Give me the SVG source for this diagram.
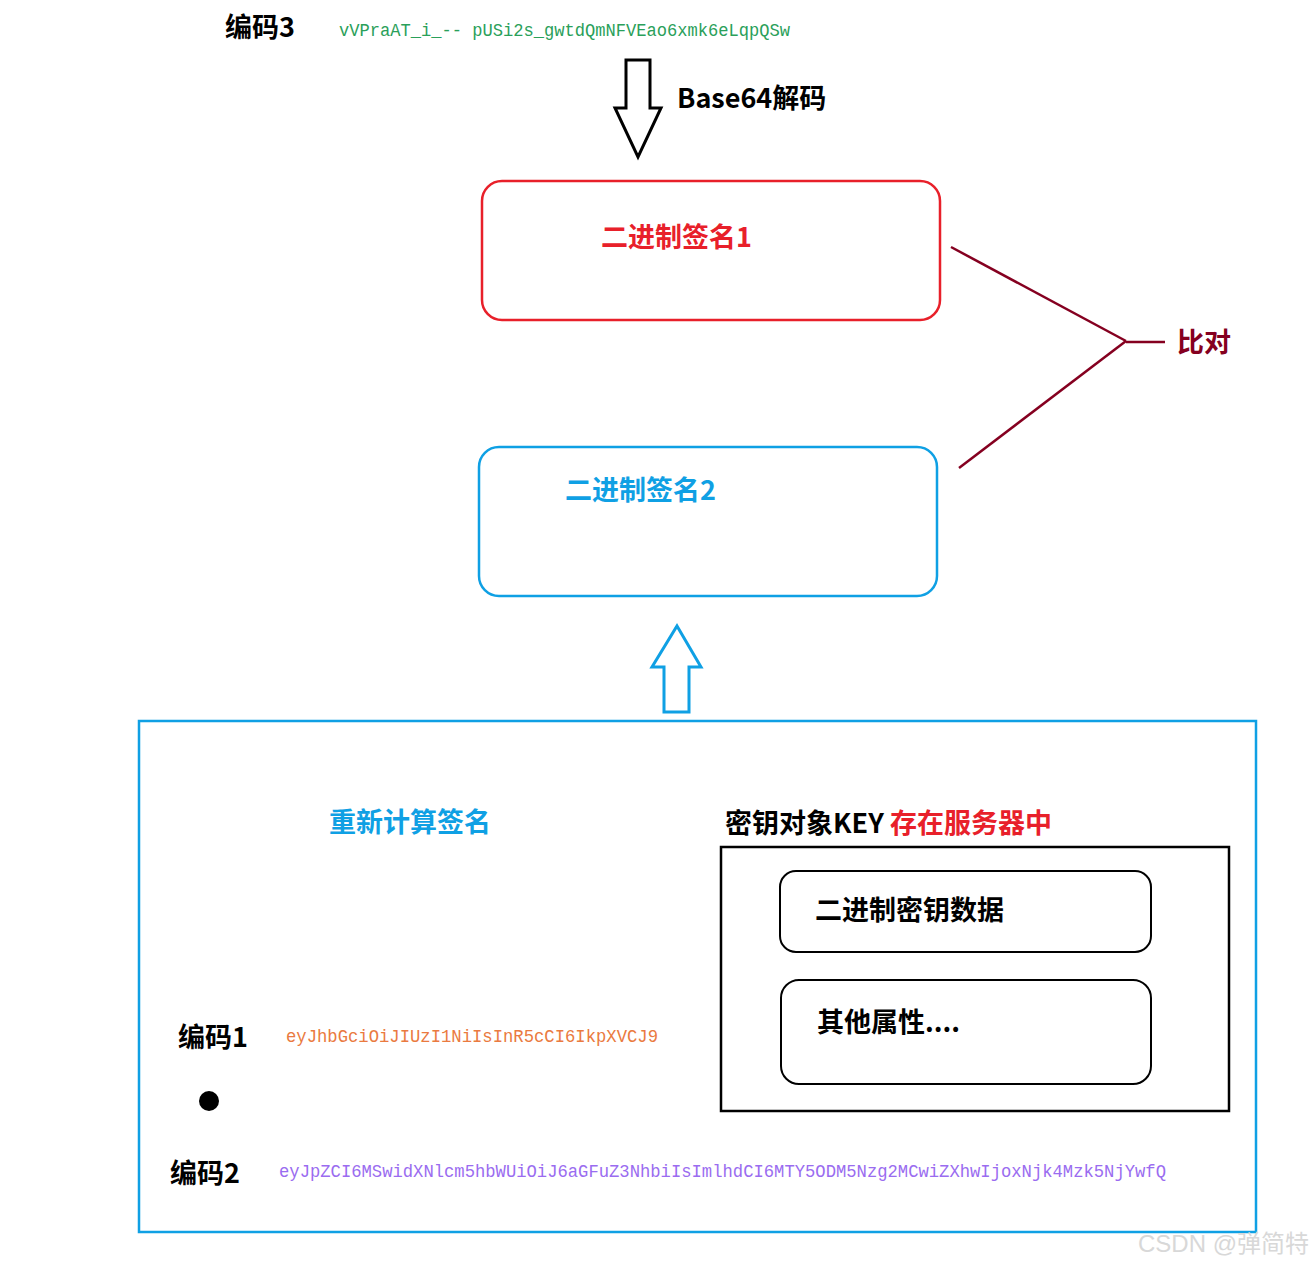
<svg xmlns="http://www.w3.org/2000/svg" width="1313" height="1265" viewBox="0 0 1313 1265">
<defs>
<style>
.t{font-family:"Noto Sans CJK SC","Liberation Sans",sans-serif;font-weight:bold;font-size:27px}
.code{font-family:"Liberation Mono","Noto Sans CJK SC",monospace;font-size:18px}
.blk{fill:#000}
.red{fill:#e8202a}
.blue{fill:#0fa0e4}
.dred{fill:#850020}
</style>
</defs>
<rect width="1313" height="1265" fill="#fff"/>
<g id="code3">
<text class="t blk" x="225" y="37">编码3</text>
<text class="code" x="339" y="36" fill="#2aa05a" textLength="451" lengthAdjust="spacingAndGlyphs">vVPraAT_i_-- pUSi2s_gwtdQmNFVEao6xmk6eLqpQSw</text>
</g>
<g id="decode-label">
<text class="t blk" x="677" y="108">Base64解码</text>
</g>
<g id="sig1">
<rect x="482" y="181" width="458" height="139" rx="20" fill="none" stroke="#e8202a" stroke-width="2.5"/>
<text class="t red" x="601" y="247">二进制签名1</text>
</g>
<g id="sig2">
<rect x="479" y="447" width="458" height="149" rx="20" fill="none" stroke="#0fa0e4" stroke-width="2.5"/>
<text class="t blue" x="565" y="500">二进制签名2</text>
</g>
<g id="compare">
<text class="t dred" x="1177" y="352">比对</text>
</g>
<g id="recompute">
<rect x="139" y="721" width="1117" height="511" fill="none" stroke="#0fa0e4" stroke-width="2.5"/>
<text class="t blue" x="329" y="832">重新计算签名</text>
<text class="t blk" x="178" y="1047">编码1</text>
<text class="code" x="286" y="1042" fill="#ea7a40" textLength="372" lengthAdjust="spacingAndGlyphs">eyJhbGciOiJIUzI1NiIsInR5cCI6IkpXVCJ9</text>
<circle cx="209" cy="1101" r="10" fill="#000"/>
<text class="t blk" x="170" y="1183">编码2</text>
<text class="code" x="279" y="1177" fill="#9a6cf0" textLength="887" lengthAdjust="spacingAndGlyphs">eyJpZCI6MSwidXNlcm5hbWUiOiJ6aGFuZ3NhbiIsImlhdCI6MTY5ODM5Nzg2MCwiZXhwIjoxNjk4Mzk5NjYwfQ</text>
</g>
<g id="key">
<text class="t blk" x="725" y="833">密钥对象KEY <tspan class="red">存在服务器中</tspan></text>
<rect x="721" y="847" width="508" height="264" fill="none" stroke="#000" stroke-width="2.5"/>
</g>
<g id="keydata">
<rect x="780" y="871" width="371" height="81" rx="16" fill="none" stroke="#000" stroke-width="2"/>
<text class="t blk" x="815" y="920">二进制密钥数据</text>
</g>
<g id="attrs">
<rect x="781" y="980" width="370" height="104" rx="18" fill="none" stroke="#000" stroke-width="2"/>
<text class="t blk" x="817" y="1032">其他属性....</text>
</g>
<g id="connectors">
<path d="M626,60 H650 V108 H661 L638,157 L615,108 H626 Z" fill="#fff" stroke="#000" stroke-width="3" stroke-linejoin="miter"/>
<path d="M677,626 L701,667 H689 V712 H664 V667 H652 Z" fill="#fff" stroke="#0fa0e4" stroke-width="3"/>
<g fill="none" stroke="#850020" stroke-width="2.5">
<path d="M951,247 L1126,341"/>
<path d="M959,468 L1126,341"/>
<path d="M1126,342 H1165"/>
</g>
</g>
<text x="1138" y="1252" font-family="'Liberation Sans','Noto Sans CJK SC',sans-serif" font-size="24" fill="#d8d8d8">CSDN @弹简特</text>
</svg>
